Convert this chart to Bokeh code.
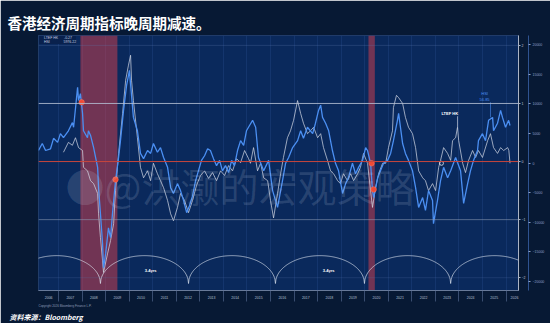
import numpy as np
from bokeh.plotting import figure
from bokeh.models import (Range1d, LinearAxis, FixedTicker, Grid, Span, BoxAnnotation,
                          Label, Title, Legend, LegendItem)
from bokeh.embed import file_html
from bokeh.resources import INLINE

# ---------------- data ----------------
blue_t = [2006.15, 2006.31, 2006.45, 2006.66, 2006.79, 2006.96, 2007.08, 2007.21, 2007.42, 2007.59,
          2007.64, 2007.81, 2007.85, 2007.93, 2008.02, 2008.06, 2008.23, 2008.27, 2008.36, 2008.49,
          2008.66, 2008.70, 2008.78, 2008.87, 2008.91, 2009.00, 2009.12, 2009.21, 2009.29, 2009.42,
          2009.55, 2009.63, 2009.76, 2009.89, 2010.01, 2010.10, 2010.18, 2010.35, 2010.48, 2010.61,
          2010.78, 2010.91, 2011.03, 2011.20, 2011.33, 2011.46, 2011.63, 2011.76, 2011.88, 2012.05,
          2012.18, 2012.31, 2012.44, 2012.56, 2012.69, 2012.82, 2012.94, 2013.07, 2013.20, 2013.33,
          2013.45, 2013.58, 2013.71, 2013.84, 2013.96, 2014.09, 2014.22, 2014.35, 2014.47, 2014.60,
          2014.73, 2014.86, 2014.98, 2015.11, 2015.24, 2015.37, 2015.49, 2015.71, 2015.92, 2016.09,
          2016.30, 2016.51, 2016.64, 2016.77, 2016.94, 2017.15, 2017.28, 2017.40, 2017.57, 2017.79,
          2017.91, 2018.04, 2018.13, 2018.21, 2018.34, 2018.47, 2018.63, 2018.76, 2018.89, 2019.06,
          2019.19, 2019.31, 2019.48, 2019.61, 2019.74, 2019.91, 2020.04, 2020.12, 2020.25, 2020.33,
          2020.38, 2020.55, 2020.67, 2020.80, 2020.97, 2021.10, 2021.22, 2021.39, 2021.44, 2021.61,
          2021.73, 2021.86, 2022.03, 2022.16, 2022.29, 2022.46, 2022.58, 2022.71, 2022.88, 2022.92,
          2023.09, 2023.22, 2023.35, 2023.52, 2023.65, 2023.86, 2024.07, 2024.20, 2024.37, 2024.49,
          2024.62, 2024.79, 2024.83, 2025.00, 2025.13, 2025.26, 2025.43, 2025.47, 2025.64, 2025.77,
          2025.85, 2025.98, 2026.11, 2026.17]
blue_v = [0.19, 0.31, 0.19, 0.22, 0.40, 0.33, 0.48, 0.41, 0.53, 0.67,
          0.59, 1.28, 1.05, 1.17, 0.83, 0.53, 0.41, 0.53, 0.45, 0.24,
          -0.10, -0.45, -0.90, -1.41, -1.83, -1.59, -1.14, -1.31, -0.90, -0.33,
          0.07, 0.36, 0.88, 1.31, 1.57, 1.14, 0.76, 0.53, 0.14, 0.05,
          0.19, 0.14, 0.31, 0.16, 0.24, 0.07, -0.10, -0.45, -0.55, -0.38,
          -0.50, -0.67, -0.88, -0.76, -0.59, -0.33, -0.16, 0.02, 0.10, 0.22,
          0.19, 0.05, -0.07, 0.02, -0.16, -0.07, -0.19, 0.02, -0.07, 0.19,
          0.36, 0.28, 0.53, 0.62, 0.71, 0.59, 0.07, -0.16, 0.02, -0.50,
          -0.79, -0.33, -0.03, 0.07, 0.24, 0.36, 0.53, 0.40, 0.59, 0.48,
          0.66, 0.88, 0.97, 0.76, 0.66, 0.53, 0.19, -0.03, -0.16, -0.55,
          -0.38, -0.28, -0.03, -0.21, -0.10, 0.02, 0.24, 0.19, -0.03, -0.50,
          -0.62, -0.28, -0.16, -0.03, 0.02, 0.14, 0.36, 0.71, 0.83, 0.31,
          0.14, 0.02, -0.16, -0.45, -0.79, -0.62, -0.84, -0.50, -0.67, -1.07,
          -0.67, -0.33, -0.10, -0.28, -0.16, 0.07, -0.16, -0.72, -0.38, -0.16,
          0.02, 0.19, 0.36, 0.48, 0.36, 0.71, 0.76, 0.53, 0.66, 0.88,
          0.76, 0.59, 0.71, 0.62]

white_t = [2007.21, 2007.42, 2007.59, 2007.72, 2007.85, 2008.02, 2008.06, 2008.23, 2008.36, 2008.49,
           2008.66, 2008.70, 2008.78, 2008.87, 2008.91, 2009.08, 2009.21, 2009.34, 2009.42, 2009.55,
           2009.72, 2009.85, 2009.97, 2010.06, 2010.10, 2010.18, 2010.35, 2010.48, 2010.61, 2010.78,
           2010.91, 2011.03, 2011.20, 2011.33, 2011.46, 2011.63, 2011.76, 2011.88, 2012.05, 2012.18,
           2012.35, 2012.52, 2012.69, 2012.86, 2013.03, 2013.20, 2013.37, 2013.54, 2013.71, 2013.88,
           2014.05, 2014.22, 2014.39, 2014.56, 2014.73, 2014.90, 2015.07, 2015.15, 2015.28, 2015.45,
           2015.58, 2015.71, 2015.88, 2016.00, 2016.13, 2016.30, 2016.43, 2016.55, 2016.72, 2016.85,
           2016.98, 2017.15, 2017.28, 2017.40, 2017.57, 2017.70, 2017.83, 2018.00, 2018.13, 2018.25,
           2018.42, 2018.55, 2018.68, 2018.85, 2018.97, 2019.10, 2019.27, 2019.40, 2019.53, 2019.70,
           2019.82, 2019.95, 2020.12, 2020.25, 2020.33, 2020.46, 2020.59, 2020.76, 2020.89, 2021.01,
           2021.18, 2021.22, 2021.35, 2021.44, 2021.61, 2021.73, 2021.86, 2022.03, 2022.16, 2022.29,
           2022.46, 2022.58, 2022.71, 2022.88, 2023.01, 2023.14, 2023.22, 2023.35, 2023.52, 2023.65,
           2023.73, 2023.86, 2023.94, 2023.99, 2024.16, 2024.28, 2024.41, 2024.58, 2024.71, 2024.83,
           2025.00, 2025.22, 2025.34, 2025.47, 2025.64, 2025.77, 2025.90, 2026.07, 2026.12, 2026.17]
white_v = [0.16, 0.33, 0.28, 0.41, 0.24, 0.19, -0.10, -0.16, -0.33, -0.38,
           -0.55, -0.90, -1.31, -1.71, -1.91, -1.59, -1.36, -1.07, -0.50, 0.14,
           0.83, 1.40, 1.66, 1.83, 1.40, 1.05, 0.41, -0.10, -0.28, -0.16,
           -0.33, -0.03, -0.21, -0.33, -0.45, -0.67, -0.90, -1.02, -0.79, -0.55,
           -0.67, -0.88, -0.67, -0.41, -0.24, -0.16, -0.29, -0.19, -0.33, -0.16,
           -0.24, -0.07, -0.16, 0.05, -0.02, 0.19, 0.05, -0.03, 0.24, -0.16,
           -0.03, -0.28, -0.33, -0.67, -0.97, -0.55, -0.21, 0.07, 0.41, 0.53,
           0.71, 1.05, 0.83, 0.66, 0.48, 0.53, 0.59, 0.41, 0.48, 0.24,
           0.02, -0.16, -0.21, -0.33, -0.38, -0.21, -0.33, -0.21, -0.33, -0.21,
           -0.10, 0.14, -0.03, -0.50, -0.79, -0.45, -0.21, -0.03, -0.03, 0.24,
           0.53, 0.93, 1.14, 1.10, 1.00, 0.76, 0.59, 0.48, 0.24, -0.16,
           -0.28, -0.33, -0.50, -0.38, -0.50, -0.10, 0.02, 0.24, 0.14, 0.02,
           0.36, 0.41, 0.59, 0.36, -0.03, -0.19, 0.02, 0.19, 0.07, 0.19,
           0.07, 0.36, 0.48, 0.24, 0.14, 0.24, 0.19, 0.24, 0.19, -0.03]

recession_start = [2007.93, 2020.16]
recession_end = [2009.50, 2020.43]
signal_t = [2007.98, 2009.42, 2020.29, 2020.38]
signal_v = [1.02, -0.31, -0.03, -0.48]
latest_t = [2023.26]
latest_v = [-0.03]
cycle_troughs = [2005.06, 2008.78, 2012.52, 2016.21, 2019.99, 2023.65, 2027.37]
cycle_label_t = [2010.91, 2018.47]
year_labels = [str(y) for y in range(2006, 2027)]
year_label_pos = [2006.58] + [y + 0.5 for y in range(2007, 2026)] + [2026.36]
year_starts = list(range(2007, 2027))
inner_ticks = [-2, -1, 0, 1, 2]
outer_ticks = [-20000, -15000, -10000, -5000, 0, 5000, 10000, 15000, 20000]

# ---------------- styling ----------------
PAGE = "#071934"
PANEL = "#0b2c63"
FRAME = "#0a295c"
BLUE = "#4b8ff2"
WHITE = "#d4dae6"
LAT = "Liberation Sans"
CJK = "Noto Sans CJK SC"

x_lo, x_hi = 2006.15, 2026.53
y_lo, y_hi = -2.22, 2.17

p = figure(width=550, height=323, output_backend="svg", toolbar_location=None,
           x_range=Range1d(x_lo, x_hi), y_range=Range1d(y_lo, y_hi),
           x_axis_location=None, y_axis_location=None,
           min_border_left=38, min_border_right=32, min_border_top=35, min_border_bottom=33,
           background_fill_color=FRAME, border_fill_color=PAGE, outline_line_color=None)
p.grid.visible = False
p.extra_y_ranges = {"pts": Range1d(-21600, 21600)}

# panel behind the chart (screen units, relative to the frame)
p.add_layout(BoxAnnotation(left=-8, right=497, bottom=-12, top=257,
                           left_units="screen", right_units="screen",
                           bottom_units="screen", top_units="screen",
                           fill_color=PANEL, fill_alpha=1, line_color=None, level="image"))
p.add_layout(BoxAnnotation(fill_color=FRAME, fill_alpha=1, line_color=None, level="image"))

# vertical year grid
vg = Grid(dimension=0, ticker=FixedTicker(ticks=year_starts), grid_line_color="#2a4f8f",
          grid_line_alpha=0.55, grid_line_width=0.6)
p.add_layout(vg)

# recession bands
p.quad(left=recession_start, right=recession_end, bottom=y_lo, top=y_hi,
       fill_color="#e2404c", fill_alpha=0.48, line_color=None)

# horizontal reference lines
for lvl, col, a, w in [(2, "#5a76a8", 0.5, 0.6), (1, "#b4bfd2", 0.85, 1.0),
                       (-1, "#8e9cb5", 0.7, 0.8), (-2, "#5a76a8", 0.4, 0.6)]:
    p.add_layout(Span(location=lvl, dimension="width", line_color=col, line_alpha=a, line_width=w))
p.add_layout(Span(location=0, dimension="width", line_color="#c8463c", line_width=1.0))

# watermark
p.add_layout(Label(x=2007.30, y=-0.41, text="●@洪灏的宏观策略", text_font=CJK,
                   text_font_size="39px", text_color="#c9d4e8", text_alpha=0.16,
                   text_baseline="middle"))

# cycle arcs
arc_x, arc_y = [], []
for a, b in zip(cycle_troughs[:-1], cycle_troughs[1:]):
    u = np.linspace(-1, 1, 161)
    arc_x.append(list((a + b) / 2 + u * (b - a) / 2))
    arc_y.append(list(-2.10 + 0.48 * np.sqrt(1 - u ** 2)))
p.multi_line(arc_x, arc_y, line_color="#dfe6f2", line_alpha=0.85, line_width=0.8)
for t in cycle_label_t:
    p.add_layout(Label(x=t, y=-1.88, text="3-4yrs", text_font=LAT, text_font_size="4px",
                       text_font_style="bold", text_color="white", text_align="center",
                       text_baseline="middle"))

# series
r_white = p.line(white_t, white_v, line_color=WHITE, line_width=0.8, line_alpha=0.9)
r_blue = p.line(blue_t, blue_v, line_color=BLUE, line_width=1.3)

# signal markers
p.scatter(signal_t, signal_v, size=5.5, fill_color="#f04a35", line_color="#ff7a60", line_width=0.5)
p.scatter(latest_t, latest_v, size=4, fill_color=None, line_color="#e8ecf4", line_width=0.8)

# in-chart labels
p.add_layout(Label(x=2023.61, y=0.83, text="LTEF HK", text_font=LAT, text_font_size="4px",
                   text_font_style="bold", text_color="white", text_align="center",
                   text_baseline="middle"))
p.segment(x0=[2023.94], y0=[0.78], x1=[2023.94], y1=[0.59], line_color="#e0e6f0", line_width=0.6)
p.add_layout(Label(x=2025.09, y=1.17, text="HSI", text_font=LAT, text_font_size="4px",
                   text_color=BLUE, text_align="center", text_baseline="middle"))
p.add_layout(Label(x=2025.09, y=1.07, text="56.85", text_font=LAT, text_font_size="4px",
                   text_color=BLUE, text_align="center", text_baseline="middle"))
p.segment(x0=[2025.34], y0=[1.02], x1=[2025.34], y1=[0.76], line_color=BLUE, line_width=0.6)

# legend (square swatches)
sq_w = p.scatter([], [], marker="square", fill_color="white", line_color=None)
sq_b = p.scatter([], [], marker="square", fill_color=BLUE, line_color=None)
legend = Legend(items=[LegendItem(label="LTEF HK      -0.27", renderers=[sq_w]),
                       LegendItem(label="HSI              5976.22", renderers=[sq_b])],
                location="top_left", margin=1, padding=2, spacing=0,
                glyph_width=3, glyph_height=3, label_height=3, label_standoff=2,
                label_text_font_size="3.5px", label_text_color="#c8d0e0", label_text_font=LAT,
                background_fill_color="#09214d", background_fill_alpha=1, border_line_color=None)
p.add_layout(legend)

# axes
xaxis = LinearAxis(ticker=FixedTicker(ticks=year_label_pos, minor_ticks=year_starts),
                   major_label_overrides={pos: lab for pos, lab in zip(year_label_pos, year_labels)},
                   major_tick_line_color=None, major_tick_out=0, major_tick_in=0,
                   minor_tick_out=11, minor_tick_in=0, minor_tick_line_color="#5d7199",
                   minor_tick_line_width=0.6, major_label_standoff=-6,
                   major_label_text_font_size="3.5px", major_label_text_color="#b4c0d4",
                   major_label_text_font=LAT, axis_line_color="#7b8aa6", axis_line_width=0.8)
p.add_layout(xaxis, "below")

inner = LinearAxis(ticker=FixedTicker(ticks=inner_ticks), axis_line_color="#aab4c6",
                   axis_line_width=1.0, major_tick_out=2, major_tick_in=0,
                   major_tick_line_color="#aab4c6", minor_tick_line_color=None,
                   major_label_standoff=1, major_label_text_font_size="3.5px",
                   major_label_text_color="#c4ccdc", major_label_text_font=LAT)
p.add_layout(inner, "right")

outer = LinearAxis(y_range_name="pts", ticker=FixedTicker(ticks=outer_ticks),
                   axis_line_color="#3a62a8", axis_line_width=0.8, major_tick_out=2,
                   major_tick_in=0, major_tick_line_color="#8fa2c6", minor_tick_line_color=None,
                   major_label_standoff=2, major_label_text_font_size="3.5px",
                   major_label_text_color="#8fa2c6", major_label_text_font=LAT)
p.add_layout(outer, "right")

# title and footers
p.title.text = "香港经济周期指标晚周期减速。"
p.title.align = "left"
p.title.offset = -31
p.title.standoff = 5
p.title.text_font = CJK
p.title.text_font_size = "14.5px"
p.title.text_font_style = "bold"
p.title.text_color = "white"

p.add_layout(Title(text="Copyright 2026 Bloomberg Finance L.P.", align="left", offset=0,
                   standoff=2, text_font=LAT, text_font_size="3px", text_font_style="normal",
                   text_color="#8c9bb6"), "below")
p.add_layout(Title(text="资料来源：Bloomberg", align="left", offset=-29, standoff=3,
                   text_font=CJK, text_font_size="7px", text_font_style="bold italic",
                   text_color="white"), "below")
p.add_layout(Label(x=470, y=-12, x_units="screen", y_units="screen",
                   text="04 Mar 2026 12:25:40", text_font=LAT, text_font_size="3px",
                   text_color="#8c9bb6", text_baseline="middle"))

open("out.html", "w").write(file_html(p, INLINE))
